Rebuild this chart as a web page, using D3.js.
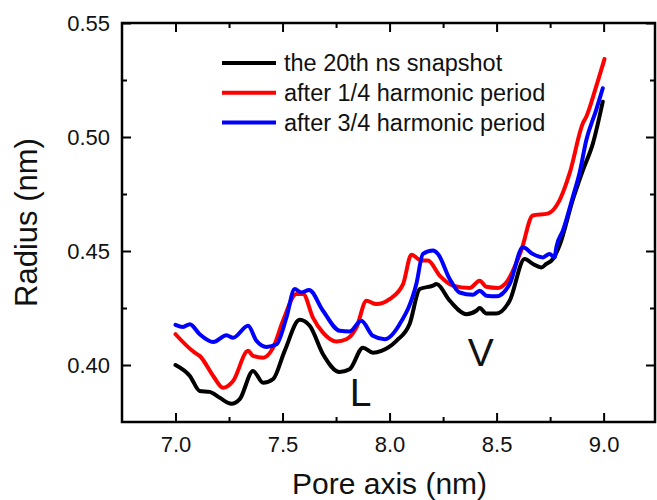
<!DOCTYPE html>
<html>
<head>
<meta charset="utf-8">
<script src="https://cdn.jsdelivr.net/npm/d3@7/dist/d3.min.js"></script>
<style>
  html, body { margin: 0; padding: 0; background: #fff; }
  svg { display: block; font-family: "Liberation Sans", Arial, sans-serif; }
</style>
</head>
<body>
<svg id="chart" width="657" height="500"></svg>
<script>
// ---- data ----
const seriesNames = ["the 20th ns snapshot", "after 1/4 harmonic period", "after 3/4 harmonic period"];
const seriesColors = ["#000000", "#ff0000", "#0000ff"];

const blackX = [7.000,7.067,7.113,7.160,7.207,7.261,7.300,7.362,7.409,7.456,7.510,7.580,7.627,7.689,7.767,7.813,7.876,7.922,7.962,8.032,8.094,8.141,8.203,8.219,8.281,8.359,8.405,8.421,8.452,8.499,8.561,8.631,8.670,8.709,8.732,8.763,8.794,8.855,8.903,8.950,8.996];
const blackY = [0.4000,0.3952,0.3886,0.3882,0.3856,0.3830,0.3850,0.3974,0.3922,0.3938,0.4062,0.4198,0.4172,0.4047,0.3969,0.3981,0.4076,0.4054,0.4062,0.4106,0.4181,0.4333,0.4348,0.4355,0.4282,0.4223,0.4238,0.4250,0.4226,0.4226,0.4282,0.4465,0.4443,0.4428,0.4443,0.4465,0.4524,0.4722,0.4854,0.4972,0.5155];

const redX = [7.000,7.090,7.113,7.176,7.222,7.269,7.339,7.362,7.409,7.456,7.502,7.565,7.596,7.642,7.689,7.752,7.798,7.845,7.892,7.938,8.000,8.063,8.102,8.148,8.179,8.234,8.296,8.374,8.421,8.452,8.506,8.545,8.615,8.669,8.739,8.794,8.841,8.903,8.919,8.965,9.004];
const redY = [0.4135,0.4054,0.4040,0.3952,0.3900,0.3930,0.4062,0.4040,0.4032,0.4076,0.4194,0.4311,0.4311,0.4208,0.4142,0.4103,0.4113,0.4164,0.4282,0.4267,0.4289,0.4355,0.4484,0.4458,0.4458,0.4392,0.4348,0.4338,0.4370,0.4343,0.4338,0.4362,0.4502,0.4656,0.4664,0.4722,0.4840,0.5060,0.5089,0.5221,0.5342];

const blueX = [7.000,7.035,7.067,7.113,7.176,7.238,7.269,7.339,7.378,7.425,7.472,7.518,7.557,7.588,7.624,7.689,7.767,7.813,7.868,7.922,7.977,8.047,8.125,8.156,8.203,8.226,8.281,8.327,8.389,8.421,8.452,8.499,8.561,8.623,8.669,8.716,8.747,8.771,8.779,8.810,8.856,8.887,8.919,8.965,8.996];
const blueY = [0.4176,0.4167,0.4179,0.4135,0.4101,0.4131,0.4120,0.4172,0.4106,0.4079,0.4091,0.4208,0.4333,0.4318,0.4329,0.4238,0.4150,0.4147,0.4194,0.4128,0.4113,0.4179,0.4355,0.4487,0.4502,0.4487,0.4377,0.4318,0.4308,0.4326,0.4304,0.4301,0.4355,0.4516,0.4487,0.4472,0.4487,0.4472,0.4516,0.4590,0.4737,0.4840,0.4986,0.5118,0.5214];

const xMajorTicks = [7.0, 7.5, 8.0, 8.5, 9.0];
const xMinorTicks = [7.25, 7.75, 8.25, 8.75];
const yMajorTicks = [0.40, 0.45, 0.50, 0.55];
const yMinorTicks = [0.425, 0.475, 0.525];

const xTitle = "Pore axis (nm)";
const yTitle = "Radius (nm)";
const annotations = [{text: "L", x: 7.814, y: 0.382}, {text: "V", x: 8.365, y: 0.3996}];

// ---- layout ----
const margin = {left: 122, top: 23, right: 2, bottom: 78};
const W = 657, H = 500;
const iw = W - margin.left - margin.right;
const ih = H - margin.top - margin.bottom;

const svg = d3.select("#chart");
const g = svg.append("g").attr("transform", `translate(${margin.left},${margin.top})`);

const x = d3.scaleLinear().domain([6.75, 9.24]).range([0, iw]);
const y = d3.scaleLinear().domain([0.375, 0.55]).range([ih, 0]);

// lines
const series = [
  {name: seriesNames[0], color: seriesColors[0], pts: blackX.map((d, i) => [d, blackY[i]])},
  {name: seriesNames[1], color: seriesColors[1], pts: redX.map((d, i) => [d, redY[i]])},
  {name: seriesNames[2], color: seriesColors[2], pts: blueX.map((d, i) => [d, blueY[i]])}
];
const line = d3.line().x(d => x(d[0])).y(d => y(d[1])).curve(d3.curveMonotoneX);
g.selectAll("path.series").data(series).enter().append("path")
  .attr("class", "series")
  .attr("d", d => line(d.pts))
  .attr("fill", "none")
  .attr("stroke", d => d.color)
  .attr("stroke-width", 4)
  .attr("stroke-linejoin", "round")
  .attr("stroke-linecap", "round");

// axes (ticks inward, mirrored)
const fmt = d3.format(".1f");
const fmtY = d3.format(".2f");
function styleAxis(sel) {
  sel.select(".domain").remove();
  sel.selectAll(".tick line").attr("stroke", "#000").attr("stroke-width", 2);
  sel.selectAll("text").attr("fill", "#111").style("font-size", "22px");
}
const bottom = g.append("g").attr("transform", `translate(0,${ih})`)
  .call(d3.axisBottom(x).tickValues(xMajorTicks).tickSize(-9).tickPadding(14).tickFormat(fmt));
styleAxis(bottom);
bottom.selectAll("text").attr("dy", "0.71em").attr("y", 14);
g.append("g").attr("transform", `translate(0,${ih})`)
  .call(d3.axisBottom(x).tickValues(xMinorTicks).tickSize(-5).tickFormat(""))
  .call(styleAxis);
g.append("g").call(d3.axisTop(x).tickValues(xMajorTicks).tickSize(-9).tickFormat("")).call(styleAxis);
g.append("g").call(d3.axisTop(x).tickValues(xMinorTicks).tickSize(-5).tickFormat("")).call(styleAxis);

const left = g.append("g")
  .call(d3.axisLeft(y).tickValues(yMajorTicks).tickSize(-9).tickPadding(12).tickFormat(fmtY));
styleAxis(left);
g.append("g").call(d3.axisLeft(y).tickValues(yMinorTicks).tickSize(-5).tickFormat("")).call(styleAxis);
g.append("g").attr("transform", `translate(${iw},0)`)
  .call(d3.axisRight(y).tickValues(yMajorTicks).tickSize(-9).tickFormat("")).call(styleAxis);
g.append("g").attr("transform", `translate(${iw},0)`)
  .call(d3.axisRight(y).tickValues(yMinorTicks).tickSize(-5).tickFormat("")).call(styleAxis);

// frame
g.append("rect").attr("x", 0).attr("y", 0).attr("width", iw).attr("height", ih)
  .attr("fill", "none").attr("stroke", "#000").attr("stroke-width", 2.5);

// axis titles
svg.append("text").attr("x", margin.left + x(8.0)).attr("y", 494)
  .attr("text-anchor", "middle").style("font-size", "30px").attr("fill", "#111").text(xTitle);
svg.append("text").attr("transform", `translate(37,${margin.top + y(0.4625)}) rotate(-90)`)
  .attr("text-anchor", "middle").style("font-size", "31px").attr("fill", "#111").text(yTitle);

// annotations
g.selectAll("text.ann").data(annotations).enter().append("text")
  .attr("class", "ann")
  .attr("x", d => x(d.x)).attr("y", d => y(d.y))
  .style("font-size", "39px").attr("fill", "#111").text(d => d.text);

// legend
const legend = svg.append("g").attr("transform", "translate(222,63)");
const rows = legend.selectAll("g").data(series).enter().append("g")
  .attr("transform", (d, i) => `translate(0,${i * 29.8})`);
rows.append("line").attr("x1", 0).attr("x2", 54).attr("y1", 0).attr("y2", 0)
  .attr("stroke", d => d.color).attr("stroke-width", 4);
rows.append("text").attr("x", 62).attr("y", 0).attr("dy", "0.35em")
  .style("font-size", "23.5px").attr("fill", "#111").text(d => d.name);
</script>
</body>
</html>
